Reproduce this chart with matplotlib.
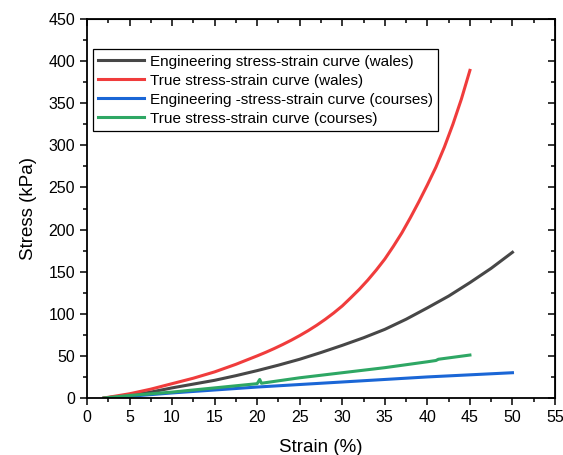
import numpy as np
import matplotlib.pyplot as plt

plt.rcParams['font.family'] = ['Liberation Sans', 'DejaVu Sans']

eng_wales_x = [2, 5, 7.5, 10, 12.5, 15, 17.5, 20, 22.5, 25, 27.5, 30, 32.5, 35, 37.5, 40, 42.5, 45, 47.5, 50]
eng_wales_y = [0, 3, 7, 12, 16.5, 21, 26.5, 32.5, 39, 46, 54, 62.5, 71.5, 81.5, 93.5, 107, 121, 137, 154, 173]

true_wales_x = [2, 5, 7.5, 10, 12.5, 15, 17.5, 20, 21, 22, 23, 24, 25, 26, 27, 28, 29, 30, 31, 32, 33,
                34, 35, 36, 37, 38, 39, 40, 41, 42, 43, 44, 45]
true_wales_y = [0, 5, 10.5, 17, 23.5, 31, 40, 50, 54.2, 58.7, 63.5, 68.6, 74.1, 80, 86.4, 93.4, 101, 109.3,
                119, 129, 140, 152, 165, 180, 196, 214, 233, 253, 274, 298, 325, 355, 389]

eng_courses_x = [3, 5, 7.5, 10, 15, 20, 25, 30, 35, 40, 45, 50]
eng_courses_y = [0, 2, 4, 6, 9.5, 13, 16, 19, 22, 25, 27.5, 30]

true_courses_x = [2, 5, 7.5, 10, 15, 20, 20.3, 20.5, 25, 30, 35, 40, 41, 41.3, 45]
true_courses_y = [0, 3, 5, 7, 12, 17, 22, 17.5, 24, 30, 36, 43, 44.5, 46, 51]

fig = plt.figure(figsize=(5.63, 4.55), dpi=100)
ax = fig.add_axes([0.1545, 0.1253, 0.8313, 0.8329])

ax.plot(eng_wales_x, eng_wales_y, c="#474747", lw=2.2, label="Engineering stress-strain curve (wales)")
ax.plot(true_wales_x, true_wales_y, c="#f03c3c", lw=2.2, label="True stress-strain curve (wales)")
ax.plot(eng_courses_x, eng_courses_y, c="#1a66d6", lw=2.2, label="Engineering -stress-strain curve (courses)")
ax.plot(true_courses_x, true_courses_y, c="#2ea764", lw=2.2, label="True stress-strain curve (courses)")

ax.set_xlim(0, 55)
ax.set_ylim(0, 450)
ax.set_xticks(np.arange(0, 56, 5))
ax.set_yticks(np.arange(0, 451, 50))
ax.set_xticks(np.arange(2.5, 55, 5), minor=True)
ax.set_yticks(np.arange(25, 450, 50), minor=True)
ax.tick_params(which='major', direction='out', length=5, width=1.1, labelsize=11.5)
ax.tick_params(which='minor', direction='out', length=3, width=1.1)
for s in ax.spines.values():
    s.set_linewidth(1.3)

# mirrored ticks on top and right, pointing in
top = ax.secondary_xaxis('top')
top.set_xticks(np.arange(0, 56, 5))
top.set_xticks(np.arange(2.5, 55, 5), minor=True)
top.tick_params(which='major', direction='in', length=5, width=1.1, labeltop=False)
top.tick_params(which='minor', direction='in', length=3, width=1.1)
right = ax.secondary_yaxis('right')
right.set_yticks(np.arange(0, 451, 50))
right.set_yticks(np.arange(25, 450, 50), minor=True)
right.tick_params(which='major', direction='in', length=5, width=1.1, labelright=False)
right.tick_params(which='minor', direction='in', length=3, width=1.1)

ax.set_xlabel("Strain (%)", fontsize=13.5, labelpad=10)
ax.set_ylabel("Stress (kPa)", fontsize=13.5, labelpad=8)

leg = ax.legend(loc='upper left', bbox_to_anchor=(0.012, 0.92), fontsize=11,
                frameon=True, fancybox=False, edgecolor='black', framealpha=1,
                handlelength=3.0, handletextpad=0.4, borderpad=0.35, labelspacing=0.33,
                borderaxespad=0)
leg.get_frame().set_linewidth(0.9)

plt.savefig("out.png", dpi=100)
